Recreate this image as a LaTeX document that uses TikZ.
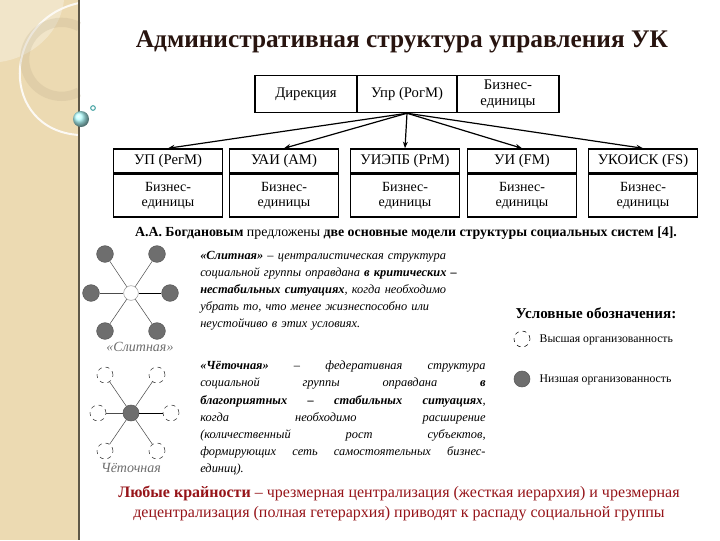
\documentclass[tikz,border=0pt]{standalone}
\usepackage{fontspec}
\setmainfont{Liberation Serif}
\usetikzlibrary{arrows.meta}
\definecolor{strip}{RGB}{236,218,178}
\definecolor{titlec}{RGB}{40,20,15}
\definecolor{redc}{RGB}{150,20,25}
\definecolor{greyc}{RGB}{110,110,110}
\begin{document}
\begin{tikzpicture}[x=0.75pt,y=-0.75pt,
  cell/.style={draw,line width=1.1pt,minimum height=27.75pt,inner sep=1pt,align=center,font=\fontsize{11}{11.5}\selectfont},
  hcell/.style={draw,line width=1.1pt,minimum height=18pt,inner sep=1pt,align=center,font=\fontsize{11}{11}\selectfont},
  bcell/.style={draw,line width=1.1pt,minimum height=32pt,inner sep=1pt,align=center,font=\fontsize{10.5}{11.5}\selectfont},
  arr/.style={-{Stealth[length=5pt]},line width=0.9pt},
  full/.style={circle,fill=greyc,draw=greyc!80!black,minimum size=12.5pt,inner sep=0pt},
  empty/.style={circle,draw=black,dashed,fill=white,minimum size=12pt,inner sep=0pt},
  emptys/.style={circle,draw=black!60,fill=white,minimum size=11pt,inner sep=0pt},
  para/.style={anchor=north west,inner sep=0pt,text width=214pt,font=\fontsize{9.3}{12.8}\selectfont\itshape},
  spoke/.style={draw=black!70,line width=0.4pt}]
\useasboundingbox (0,0) rectangle (720,540);
\fill[white] (0,0) rectangle (720,540);
\fill[strip] (0,0) rectangle (79,540);
\fill[white,opacity=0.3] (0,62) .. controls (30,58) and (60,35) .. (64,0) -- (0,0) -- cycle;
\draw[white!85!strip,line width=1.5pt] (79,3) .. controls (0,20) and (0,130) .. (79,135);
\draw[strip!80!black,opacity=0.25,line width=7pt] (79,92) arc (62:298:37);
\draw[black!60!strip,line width=1pt] (79,0) -- (79,540);
\shade[ball color=cyan!30] (81,119) circle (8);
\draw[teal!70,line width=0.8pt] (93,108) circle (2.3);

\node[font=\fontsize{19}{22}\selectfont\bfseries,text=titlec] (title) at (402,42) {Административная структура управления УК};

\node[cell,minimum width=76.5pt] (dir) at (306,94) {Дирекция};
\node[cell,minimum width=76pt] (upr) at (407,94) {Упр (РогМ)};
\node[cell,minimum width=76.5pt] (biz) at (508,94) {Бизнес-\\единицы};

\foreach \n/\x/\t in {a/168/УП (РегМ),b/284/УАИ (АМ),c/405/УИЭПБ (PrM),d/522/УИ (FM),e/643/УКОИСК (FS)}{
  \node[hcell,minimum width=82pt] (h\n) at (\x,161) {\t};
  \node[bcell,minimum width=82pt,anchor=north] (b\n) at (h\n.south) {Бизнес-\\единицы};
}
\foreach \n in {a,b,c,d,e}{\draw[arr] (upr.south) -- (h\n.north);}

\node[font=\fontsize{10.4}{12}\selectfont] (bog) at (406,233) {\textbf{А.А. Богдановым} предложены \textbf{две основные модели структуры социальных систем [4].}};

% star 1
\node[emptys,draw=black!40] (c1) at (131,293) {};
\foreach \n/\x/\y in {t1/105/254,t2/157/254,l/91/293,r/170/293,d1/105/331,d2/157/331}{
  \node[full] (s1\n) at (\x,\y) {};
}
\foreach \n in {t1,t2,l,d1,d2}{\draw[spoke] (c1) -- (s1\n);}
\draw[black,line width=0.6pt] (c1) -- (s1r);
\node[font=\fontsize{10.5}{12}\selectfont\itshape,text=greyc] (lab1) at (140,347) {«Слитная»};

% star 2
\node[full,minimum size=12pt] (c2) at (131,413) {};
\foreach \n/\x/\y in {t1/105/375,t2/157/375,l/98/413,r/171/413,d1/105/451,d2/157/451}{
  \node[empty,draw=black!80] (s2\n) at (\x,\y) {};
}
\foreach \n in {t1,t2,l,d1,d2}{\draw[spoke] (c2) -- (s2\n);}
\draw[black,line width=0.6pt] (c2) -- (s2r);
\node[font=\fontsize{10.5}{12}\selectfont\itshape,text=greyc] (lab2) at (131,468) {Чёточная};

\node[para,align=left] (p1) at (200,251) {\textbf{«Слитная»} – централистическая структура\\ социальной группы оправдана \textbf{в критических –}\\ \textbf{нестабильных ситуациях}, когда необходимо\\ убрать то, что менее жизнеспособно или\\ неустойчиво в этих условиях.};
\node[para,align=justify] (p2) at (200,361) {\textbf{«Чёточная»} – федеративная структура\linebreak социальной группы оправдана \textbf{в}\linebreak \textbf{благоприятных – стабильных ситуациях},\linebreak когда необходимо расширение\linebreak (количественный рост субъектов,\linebreak формирующих сеть самостоятельных бизнес-\linebreak единиц).};

\node[font=\fontsize{11.3}{13}\selectfont\bfseries,anchor=west] (leg) at (511,313) {Условные обозначения:};
\node[empty,minimum size=12pt] (lh) at (522,339) {};
\node[font=\fontsize{8.8}{10}\selectfont,anchor=west] (lht) at (535,340) {Высшая организованность};
\node[full,minimum size=12pt] (ll) at (522,379) {};
\node[font=\fontsize{8.8}{10}\selectfont,anchor=west] (llt) at (535,380) {Низшая организованность};

\node[font=\fontsize{12}{15}\selectfont,text=redc,align=center] (bottom) at (399,503) {\textbf{Любые крайности} – чрезмерная централизация (жесткая иерархия) и чрезмерная\\ децентрализация (полная гетерархия) приводят к распаду социальной группы};
\end{tikzpicture}
\end{document}
